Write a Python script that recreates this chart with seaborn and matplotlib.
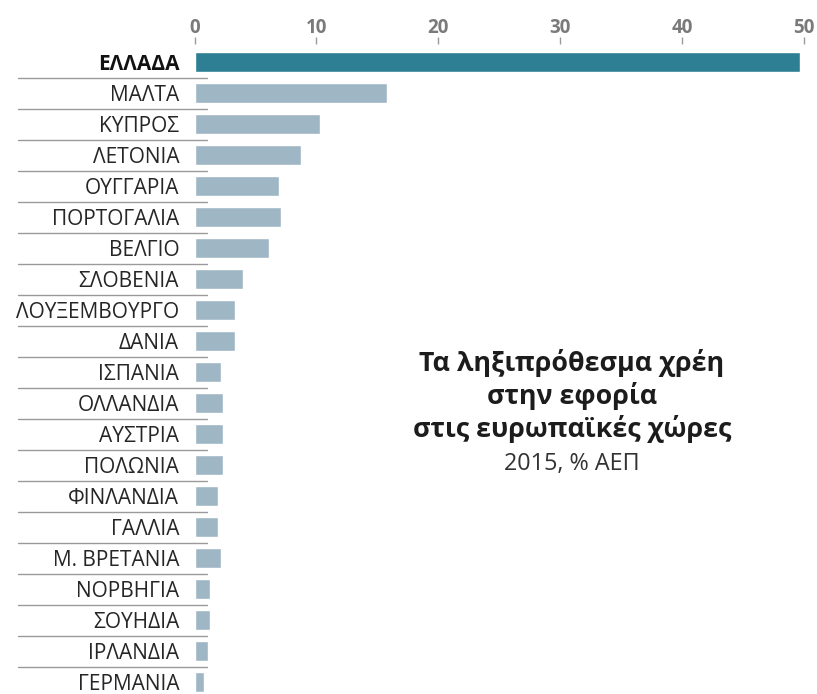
import matplotlib
matplotlib.use("Agg")
import matplotlib.pyplot as plt
import matplotlib.transforms as mtransforms
import seaborn as sns
import pandas as pd

sns.set_theme(style="white")
plt.rcParams["font.family"] = ["Open Sans", "DejaVu Sans"]

# Overdue tax debts, 2015, % of GDP
countries = [
    "ΕΛΛΑΔΑ", "ΜΑΛΤΑ", "ΚΥΠΡΟΣ", "ΛΕΤΟΝΙΑ", "ΟΥΓΓΑΡΙΑ", "ΠΟΡΤΟΓΑΛΙΑ",
    "ΒΕΛΓΙΟ", "ΣΛΟΒΕΝΙΑ", "ΛΟΥΞΕΜΒΟΥΡΓΟ", "ΔΑΝΙΑ", "ΙΣΠΑΝΙΑ", "ΟΛΛΑΝΔΙΑ",
    "ΑΥΣΤΡΙΑ", "ΠΟΛΩΝΙΑ", "ΦΙΝΛΑΝΔΙΑ", "ΓΑΛΛΙΑ", "Μ. ΒΡΕΤΑΝΙΑ", "ΝΟΡΒΗΓΙΑ",
    "ΣΟΥΗΔΙΑ", "ΙΡΛΑΝΔΙΑ", "ΓΕΡΜΑΝΙΑ",
]
values = [
    49.7, 15.8, 10.3, 8.7, 6.9, 7.1,
    6.1, 4.0, 3.3, 3.3, 2.15, 2.3,
    2.3, 2.3, 1.95, 1.95, 2.15, 1.27,
    1.27, 1.13, 0.78,
]
highlight = "ΕΛΛΑΔΑ"
x_ticks = [0, 10, 20, 30, 40, 50]

title_lines = ["Τα ληξιπρόθεσμα χρέη", "στην εφορία", "στις ευρωπαϊκές χώρες"]
subtitle = "2015, % ΑΕΠ"

HIGHLIGHT_COLOR = "#2e7f93"
BAR_COLOR = "#9fb6c5"

df = pd.DataFrame({"country": countries, "value": values})
palette = {c: (HIGHLIGHT_COLOR if c == highlight else BAR_COLOR) for c in countries}

W, H = 817, 694
fig = plt.figure(figsize=(W / 100, H / 100), dpi=100)
ax = fig.add_axes([194.5 / W, 0.0, (804 - 194.5) / W, 650 / H])

sns.barplot(data=df, x="value", y="country", hue="country", palette=palette,
            legend=False, width=0.63, orient="h", ax=ax, saturation=1)

ax.set_xlim(0, 50)
ax.set_ylim(len(countries) - 1 + 12 / 31, -18 / 31)
ax.set_xlabel("")
ax.set_ylabel("")
for s in ax.spines.values():
    s.set_visible(False)

# value scale along the top
ax.xaxis.tick_top()
ax.set_xticks(x_ticks)
ax.set_xticklabels([str(t) for t in x_ticks])
ax.tick_params(axis="x", which="both", top=True, bottom=False, length=5,
               width=1, color="#9a9a9a", pad=-1, labelsize=13.5,
               labelcolor="#7a7a7a")
for lbl in ax.get_xticklabels():
    lbl.set_fontweight("bold")

# country names
ax.tick_params(axis="y", left=False, pad=5, labelsize=15, labelcolor="#262626")
for lbl in ax.get_yticklabels():
    if lbl.get_text() == highlight:
        lbl.set_fontweight("bold")
        lbl.set_color("#111111")

# thin separators between rows, reaching out under the names
trans = mtransforms.blended_transform_factory(fig.transFigure, ax.transData)
for i in range(len(countries) - 1):
    ax.plot([18 / W, 207 / W], [i + 0.5, i + 0.5], transform=trans,
            color="#9a9a9a", lw=1.0, clip_on=False, zorder=0)

# title block
cx = 572 / W
baselines = [371, 404, 437]
for txt, yb in zip(title_lines, baselines):
    fig.text(cx, 1 - yb / H, txt, ha="center", va="baseline", fontsize=19.3,
             fontweight="bold", color="#1c1c1c")
fig.text(cx, 1 - 470 / H, subtitle, ha="center", va="baseline", fontsize=16.8,
         color="#333333")

fig.savefig("out.png", dpi=100)
